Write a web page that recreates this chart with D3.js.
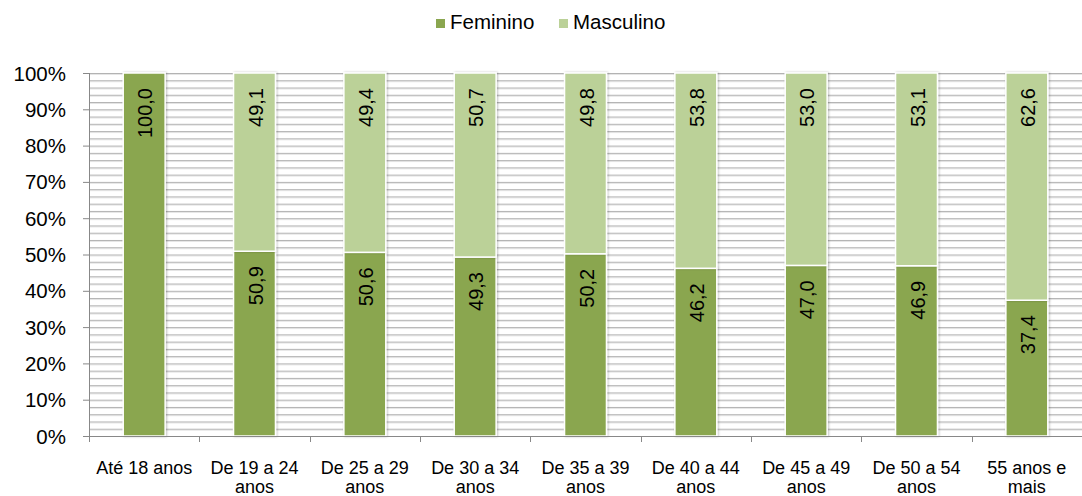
<!DOCTYPE html>
<html>
<head>
<meta charset="utf-8">
<script src="https://cdn.jsdelivr.net/npm/d3@7"></script>
<style>
  body { margin: 0; background: #fff; }
  text { font-family: "Liberation Sans", Arial, sans-serif; fill: #000; }
</style>
</head>
<body>
<div id="chart"></div>
<script>
// categories and values (percent)
var categories = ["Até 18 anos", "De 19 a 24 anos", "De 25 a 29 anos", "De 30 a 34 anos",
    "De 35 a 39 anos", "De 40 a 44 anos", "De 45 a 49 anos", "De 50 a 54 anos", "55 anos e mais"];
var catLines = [["Até 18 anos"], ["De 19 a 24", "anos"], ["De 25 a 29", "anos"], ["De 30 a 34", "anos"],
    ["De 35 a 39", "anos"], ["De 40 a 44", "anos"], ["De 45 a 49", "anos"], ["De 50 a 54", "anos"], ["55 anos e", "mais"]];
var feminino = [100.0, 50.9, 50.6, 49.3, 50.2, 46.2, 47.0, 46.9, 37.4];
var masculino = [0, 49.1, 49.4, 50.7, 49.8, 53.8, 53.0, 53.1, 62.6];
var seriesNames = ["Feminino", "Masculino"];
var colors = ["#8aa64f", "#bbd198"];
var yTicks = d3.range(0, 101, 10);

var width = 1082, height = 496,
    margin = {left: 89, right: 0, top: 73, bottom: 60};

var svg = d3.select("#chart").append("svg")
    .attr("width", width).attr("height", height);

var x = d3.scaleBand().domain(categories)
    .range([margin.left, width - margin.right]).paddingInner(0.62).paddingOuter(0.31);
var y = d3.scaleLinear().domain([0, 100]).range([height - margin.bottom, margin.top]);

// minor gridlines every 2%
var grid = svg.append("g");
d3.range(2, 101, 2).forEach(function (v) {
    grid.append("line")
        .attr("x1", margin.left).attr("x2", width)
        .attr("y1", y(v) + 1.5).attr("y2", y(v) + 1.5)
        .attr("stroke", "#e6e6e6").attr("stroke-width", 1);
    grid.append("line")
        .attr("x1", margin.left).attr("x2", width)
        .attr("y1", y(v) + 0.5).attr("y2", y(v) + 0.5)
        .attr("stroke", "#b3b3b3").attr("stroke-width", 1);
});

// stacked data
var rows = categories.map(function (c, i) {
    return {cat: c, Feminino: feminino[i], Masculino: masculino[i]};
});
var stacked = d3.stack().keys(seriesNames)(rows);

var defs = svg.append("defs");
var f = defs.append("filter").attr("id", "sh").attr("x", "-20%").attr("y", "-5%")
    .attr("width", "140%").attr("height", "110%");
f.append("feDropShadow").attr("dx", 1).attr("dy", 0).attr("stdDeviation", 1.2)
    .attr("flood-color", "#000").attr("flood-opacity", 0.25);

var layers = svg.append("g").selectAll("g").data(stacked).enter().append("g")
    .attr("fill", function (d, i) { return colors[i]; });

layers.selectAll("rect").data(function (d) { return d; }).enter()
    .filter(function (d) { return d[1] - d[0] > 0; })
    .append("rect")
    .attr("x", function (d) { return x(d.data.cat); })
    .attr("width", x.bandwidth())
    .attr("y", function (d) { return y(d[1]); })
    .attr("height", function (d) { return y(d[0]) - y(d[1]); })
    .attr("stroke", "#fff").attr("stroke-width", 1.5)
    .attr("filter", "url(#sh)");

// value labels, rotated
layers.each(function (s) {
    d3.select(this).selectAll("text").data(s.filter(function (d) { return d[1] - d[0] > 0; }))
        .enter().append("text")
        .attr("transform", function (d) {
            var cx = x(d.data.cat) + x.bandwidth() / 2 + 8;
            return "translate(" + cx + "," + (y(d[1]) + 15) + ") rotate(-90)";
        })
        .attr("text-anchor", "end")
        .attr("font-size", 20)
        .text(function (d) { return d3.format(".1f")(d[1] - d[0]).replace(".", ","); });
});

// y axis
var yAxis = svg.append("g");
yAxis.append("line").attr("x1", margin.left + 0.5).attr("x2", margin.left + 0.5)
    .attr("y1", y(100)).attr("y2", y(0)).attr("stroke", "#888");
yTicks.forEach(function (v) {
    yAxis.append("line").attr("x1", margin.left - 6).attr("x2", margin.left)
        .attr("y1", y(v) + 0.5).attr("y2", y(v) + 0.5).attr("stroke", "#888");
    yAxis.append("text").attr("x", 66).attr("y", y(v) + 7.5)
        .attr("text-anchor", "end").attr("font-size", 20.5).text(v + "%");
});

// x axis
var xAxis = svg.append("g");
xAxis.append("line").attr("x1", margin.left).attr("x2", width)
    .attr("y1", y(0) + 0.5).attr("y2", y(0) + 0.5).attr("stroke", "#888");
var step = x.step();
d3.range(0, categories.length + 1).forEach(function (i) {
    var tx = Math.round(margin.left + i * step) + 0.5;
    xAxis.append("line").attr("x1", tx).attr("x2", tx)
        .attr("y1", y(0)).attr("y2", y(0) + 6).attr("stroke", "#888");
});
categories.forEach(function (c, i) {
    var t = xAxis.append("text").attr("text-anchor", "middle").attr("font-size", 18)
        .attr("x", x(c) + x.bandwidth() / 2).attr("y", 474);
    catLines[i].forEach(function (ln, j) {
        t.append("tspan").attr("x", x(c) + x.bandwidth() / 2).attr("dy", j ? 19 : 0).text(ln);
    });
});

// legend
var legend = svg.append("g");
var lx = [436, 559];
seriesNames.forEach(function (n, i) {
    legend.append("rect").attr("x", lx[i]).attr("y", 19).attr("width", 9).attr("height", 9)
        .attr("fill", colors[i]);
    legend.append("text").attr("x", lx[i] + 14).attr("y", 29).attr("font-size", 20.5).text(n);
});
</script>
</body>
</html>
